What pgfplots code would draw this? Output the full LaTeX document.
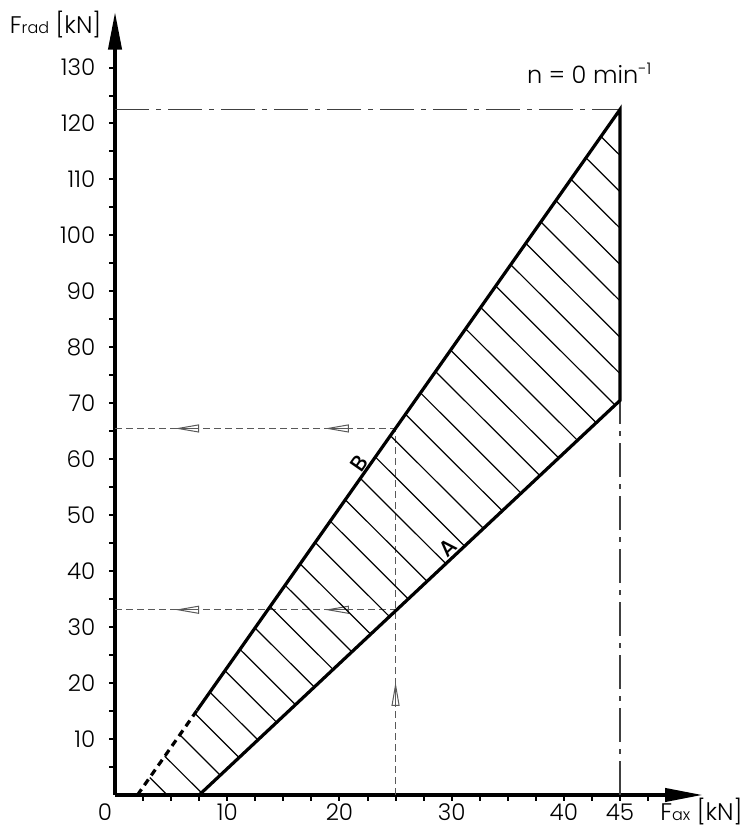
\documentclass[border=0pt]{standalone}
\usepackage{fontspec}
\setmainfont{Poppins}[UprightFont=* Light, BoldFont=* Medium]
\usepackage{pgfplots}
\pgfplotsset{compat=1.18}
\usetikzlibrary{arrows.meta}
\begin{document}
\fontsize{11}{13}\selectfont
\begin{tikzpicture}
\begin{axis}[
  scale only axis, width=294pt, height=391.7pt,
  xmin=0, xmax=52.4, ymin=0, ymax=140,
  axis lines=left,
  axis line style={line width=2pt, -{Triangle[length=19pt,width=6.5pt]}},
  clip=false,
  xtick={10,20,30,40,45},
  minor xtick={2.5,5,7.5,12.5,15,17.5,22.5,25,27.5,32.5,35,37.5,42.5,47.5},
  ytick={10,20,...,130},
  minor ytick={5,15,...,125},
  tick align=outside, major tick length=3pt, minor tick length=3pt,
  every tick/.style={black, line width=1pt},
  /pgf/number format/assume math mode=true,
  ticklabel style={font=\fontsize{11.5}{13}\selectfont},
  xticklabel style={yshift=2.5pt},
  yticklabel style={xshift=-3pt},
]
% bounding box corners
\coordinate (bbA) at (axis cs:-10.25,-5.9);
\coordinate (bbB) at (axis cs:56.15,142.07);

% dash-dot reference lines
\addplot[black!75, line width=0.6pt, dash pattern=on 17pt off 3.5pt on 2.5pt off 3.5pt] coordinates {(0,122.5) (45,122.5)};
\addplot[black!75, line width=0.6pt, dash pattern=on 17pt off 3.5pt on 2.5pt off 3.5pt] coordinates {(45,0) (45,70.5)};

% dashed construction lines
\addplot[black!65, line width=0.6pt, dash pattern=on 3.5pt off 2pt] coordinates {(0,65.5) (25,65.5)};
\addplot[black!65, line width=0.6pt, dash pattern=on 3.5pt off 2pt] coordinates {(0,33.1) (25,33.1)};
\addplot[black!65, line width=0.6pt, dash pattern=on 3.5pt off 2pt] coordinates {(25,0) (25,65.5)};

% open arrows on construction lines
\addplot[black!65, line width=0.5pt, -{Triangle[open,length=12pt,width=4pt]}] coordinates {(5.45,65.5) (5.35,65.5)};
\addplot[black!65, line width=0.5pt, -{Triangle[open,length=12pt,width=4pt]}] coordinates {(18.8,65.5) (18.7,65.5)};
\addplot[black!65, line width=0.5pt, -{Triangle[open,length=12pt,width=4pt]}] coordinates {(5.45,33.1) (5.35,33.1)};
\addplot[black!65, line width=0.5pt, -{Triangle[open,length=12pt,width=4pt]}] coordinates {(18.8,33.1) (18.7,33.1)};
\addplot[black!65, line width=0.5pt, -{Triangle[open,length=12pt,width=4pt]}] coordinates {(25,20.0) (25,20.2)};

% hatching
\addplot[black, line width=0.6pt, unbounded coords=jump] coordinates {
(3.093,3.114) (4.65,0) (nan,nan)
(4.434,6.933) (7.706,0.388) (nan,nan)
(5.774,10.752) (9.381,3.537) (nan,nan)
(7.114,14.571) (11.057,6.687) (nan,nan)
(8.455,18.390) (12.732,9.836) (nan,nan)
(9.795,22.209) (14.407,12.986) (nan,nan)
(11.136,26.028) (16.082,16.135) (nan,nan)
(12.476,29.847) (17.758,19.285) (nan,nan)
(13.817,33.666) (19.433,22.434) (nan,nan)
(15.158,37.485) (21.108,25.584) (nan,nan)
(16.498,41.304) (22.784,28.733) (nan,nan)
(17.838,45.123) (24.459,31.882) (nan,nan)
(19.179,48.942) (26.134,35.032) (nan,nan)
(20.520,52.761) (27.810,38.182) (nan,nan)
(21.860,56.580) (29.485,41.331) (nan,nan)
(23.201,60.399) (31.160,44.481) (nan,nan)
(24.541,64.218) (32.836,47.630) (nan,nan)
(25.882,68.037) (34.511,50.780) (nan,nan)
(27.222,71.856) (36.186,53.930) (nan,nan)
(28.563,75.675) (37.862,57.079) (nan,nan)
(29.903,79.494) (39.537,60.229) (nan,nan)
(31.244,83.313) (41.212,63.378) (nan,nan)
(32.584,87.132) (42.888,66.528) (nan,nan)
(33.925,90.951) (44.563,69.677) (nan,nan)
(35.265,94.770) (45,75.3) (nan,nan)
(36.606,98.589) (45,81.8) (nan,nan)
(37.946,102.408) (45,88.3) (nan,nan)
(39.287,106.227) (45,94.8) (nan,nan)
(40.627,110.046) (45,101.3) (nan,nan)
(41.968,113.865) (45,107.8) (nan,nan)
(43.308,117.684) (45,114.3)
};

% boundary lines A, right edge, B
\addplot[black, line width=1.6pt] coordinates {(7.5,0) (45,70.5) (45,122.5) (7.3,15.1)};
\addplot[black, line width=1.6pt, dash pattern=on 3.5pt off 2.5pt] coordinates {(2,0) (7.3,15.1)};

% labels
\node[anchor=south, rotate=43.2, inner sep=1pt, font=\bfseries] at (axis cs:30.3,42.9) {A};
\node[anchor=south, rotate=54.9, inner sep=1pt, font=\bfseries] at (axis cs:22.46,58.3) {B};
\node[font=\fontsize{12}{14}\selectfont] at (axis cs:42.3,129) {n = 0 min\textsuperscript{-1}};
\node[anchor=east, xshift=-3pt, font=\fontsize{12}{14}\selectfont] at (axis cs:0,137.6) {F{\footnotesize rad} [kN]};
\node[anchor=west, font=\fontsize{12}{14}\selectfont] at (axis cs:47.9,-3.0) {F{\footnotesize ax} [kN]};
\node[font=\fontsize{11.5}{13}\selectfont] at (axis cs:-0.9,-3.0) {0};
\end{axis}
\pgfresetboundingbox
\path[use as bounding box] (bbA) rectangle (bbB);
\end{tikzpicture}
\end{document}
